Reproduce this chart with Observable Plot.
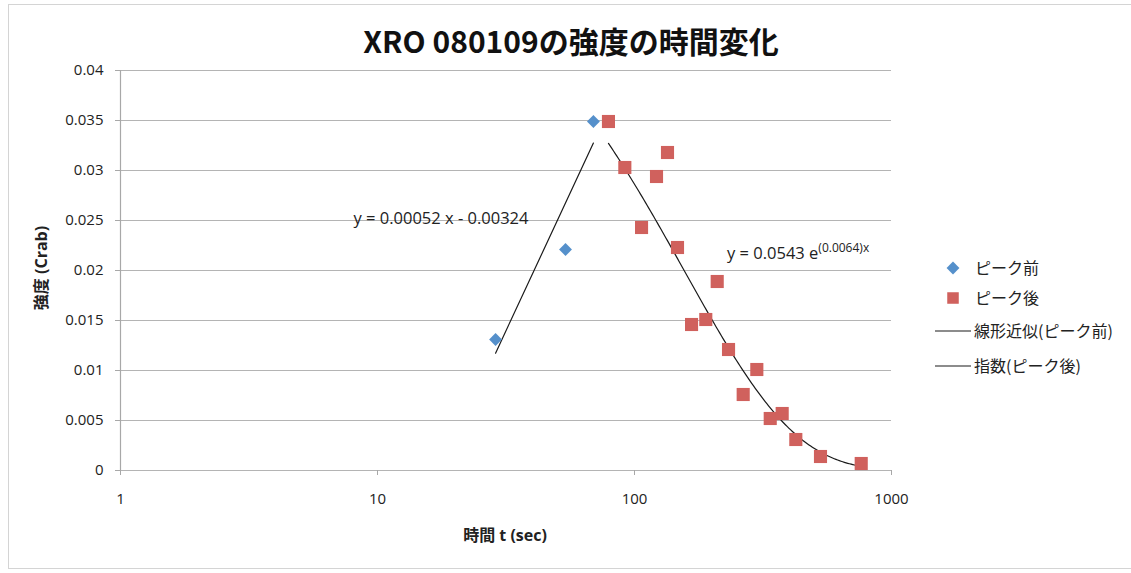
<!DOCTYPE html>
<html>
<head>
<meta charset="utf-8">
<script src="https://cdn.jsdelivr.net/npm/d3@7"></script>
<script src="https://cdn.jsdelivr.net/npm/@observablehq/plot@0.6"></script>
<style>
  body { margin: 0; background: #fff; }
  #wrap { position: relative; width: 1131px; height: 573px; overflow: hidden; background: #fff;
          font-family: "Open Sans", "Noto Sans CJK JP", sans-serif; color: #222; }
  #border { position: absolute; left: 8px; top: 4px; width: 1200px; height: 565px; border: 1px solid #d4d4d4; box-sizing: border-box; }
  .abs { position: absolute; white-space: nowrap; }
  .c { transform: translate(-50%, -50%); }
  #title { font-family: "Noto Sans CJK JP", sans-serif; font-weight: 700; font-size: 30px; color: #111; }
  .axt { font-family: "Open Sans", "Noto Sans CJK JP", sans-serif; font-weight: 700; font-size: 16px; color: #222; }
  .eq { font-size: 16.5px; }
  .eq sup { font-size: 12px; }
</style>
</head>
<body>
<div id="wrap">
  <div id="border"></div>
  <div id="chart" class="abs" style="left:0;top:0"></div>
  <div id="title" class="abs c" style="left:571px;top:40px">XRO 080109の強度の時間変化</div>
  <div class="abs c axt" style="left:40px;top:268px;transform:translate(-50%,-50%) rotate(-90deg)">強度 (Crab)</div>
  <div class="abs c axt" style="left:505px;top:534px">時間 t (sec)</div>
  <div id="eq1" class="abs c eq" style="left:441px;top:217px">y = 0.00052 x - 0.00324</div>
  <div id="eq2" class="abs eq" style="left:727px;top:239px">y = 0.0543 e<sup>(0.0064)x</sup></div>
  <svg class="abs" style="left:0;top:0" width="1131" height="573" id="legsvg"></svg>
</div>
<script>
// ---- data ----
const preTime  = [28.8, 53.9, 69.2];
const preCrab  = [0.0131, 0.0221, 0.0349];
const postTime = [79.2, 91.7, 106.5, 121.8, 134.4, 147.0, 166.7, 189.4, 209.8, 232.2, 264.8, 299.2, 337.4, 375.5, 424.3, 529.3, 762.4];
const postCrab = [0.0349, 0.0303, 0.0243, 0.0294, 0.0318, 0.0223, 0.0146, 0.0151, 0.0189, 0.0121, 0.0076, 0.0101, 0.0052, 0.0057, 0.0031, 0.0014, 0.0007];
const linearFit = [0.00052, -0.00324];   // slope, intercept
const expFit    = [0.0543, -0.0064];     // a, b  : y = a e^(b x)
const xTicks = [1, 10, 100, 1000];
const yTicks = [0, 0.005, 0.01, 0.015, 0.02, 0.025, 0.03, 0.035, 0.04];
const seriesNames = ["ピーク前", "ピーク後", "線形近似(ピーク前)", "指数(ピーク後)"];

const pre  = preTime.map((t, i) => ({t, v: preCrab[i]}));
const post = postTime.map((t, i) => ({t, v: postCrab[i]}));

// linear trendline: drawn between its end points (as in the reference)
const linEnds = [d3.min(preTime), d3.max(preTime)];
const linLine = linEnds.map(t => ({t, v: linearFit[0] * t + linearFit[1]}));
// exponential trendline: evaluated along the x range of the post-peak data
const expLine = [];
{
  const l0 = Math.log10(d3.min(postTime)), l1 = Math.log10(d3.max(postTime)), n = 150;
  for (let i = 0; i <= n; i++) {
    const t = 10 ** (l0 + (l1 - l0) * i / n);
    expLine.push({t, v: expFit[0] * Math.exp(expFit[1] * t)});
  }
}

const blue = "#5590CB", red = "#D0615D";

const chart = Plot.plot({
  width: 1131, height: 573,
  marginLeft: 120, marginRight: 240, marginTop: 70, marginBottom: 103,
  style: {background: "transparent", fontFamily: "'Open Sans', 'Noto Sans CJK JP', sans-serif", fontSize: "15px", color: "#222"},
  x: {type: "log", domain: [1, 1000]},
  y: {domain: [0, 0.04]},
  marks: [
    Plot.ruleY(yTicks, {stroke: "#b4b4b4", strokeWidth: 1.2}),
    Plot.ruleX([1], {stroke: "#a8a8a8", strokeWidth: 1.2}),
    Plot.axisY({ticks: yTicks, tickSize: 5, tickPadding: 12, stroke: "#a8a8a8", fill: "#222", fontSize: 15,
                tickFormat: d => String(+d.toFixed(3)), label: null}),
    Plot.axisX({ticks: xTicks, tickSize: 5, tickPadding: 18, stroke: "#a8a8a8", fill: "#222", fontSize: 15,
                tickFormat: d => String(d), label: null}),
    Plot.line(linLine, {x: "t", y: "v", stroke: "#1a1a1a", strokeWidth: 1.2}),
    Plot.line(expLine, {x: "t", y: "v", stroke: "#1a1a1a", strokeWidth: 1.2}),
    Plot.dot(pre,  {x: "t", y: "v", symbol: "diamond2", r: 5.8, fill: blue, stroke: "none"}),
    Plot.dot(post, {x: "t", y: "v", symbol: "square", r: 7.4, fill: red, stroke: "none"})
  ]
});
document.getElementById("chart").appendChild(chart);

// ---- legend ----
const leg = d3.select("#legsvg");
const rows = [268, 298, 331, 366];
leg.append("path").attr("d", d3.symbol(d3.symbolDiamond2, Math.PI * 5.8 * 5.8)()).attr("transform", `translate(953,${rows[0]})`).attr("fill", blue);
leg.append("path").attr("d", d3.symbol(d3.symbolSquare, Math.PI * 6.5 * 6.5)()).attr("transform", `translate(953,${rows[1]})`).attr("fill", red);
leg.append("line").attr("x1", 935).attr("x2", 971).attr("y1", rows[2]).attr("y2", rows[2]).attr("stroke", "#1a1a1a").attr("stroke-width", 1.2);
leg.append("line").attr("x1", 935).attr("x2", 971).attr("y1", rows[3]).attr("y2", rows[3]).attr("stroke", "#1a1a1a").attr("stroke-width", 1.2);
seriesNames.forEach((s, i) => {
  leg.append("text").attr("x", i < 2 ? 975 : 974).attr("y", rows[i]).attr("dy", "0.35em")
    .attr("font-family", "'Noto Sans CJK JP', sans-serif").attr("font-size", 16).attr("fill", "#222").text(s);
});
</script>
</body>
</html>
